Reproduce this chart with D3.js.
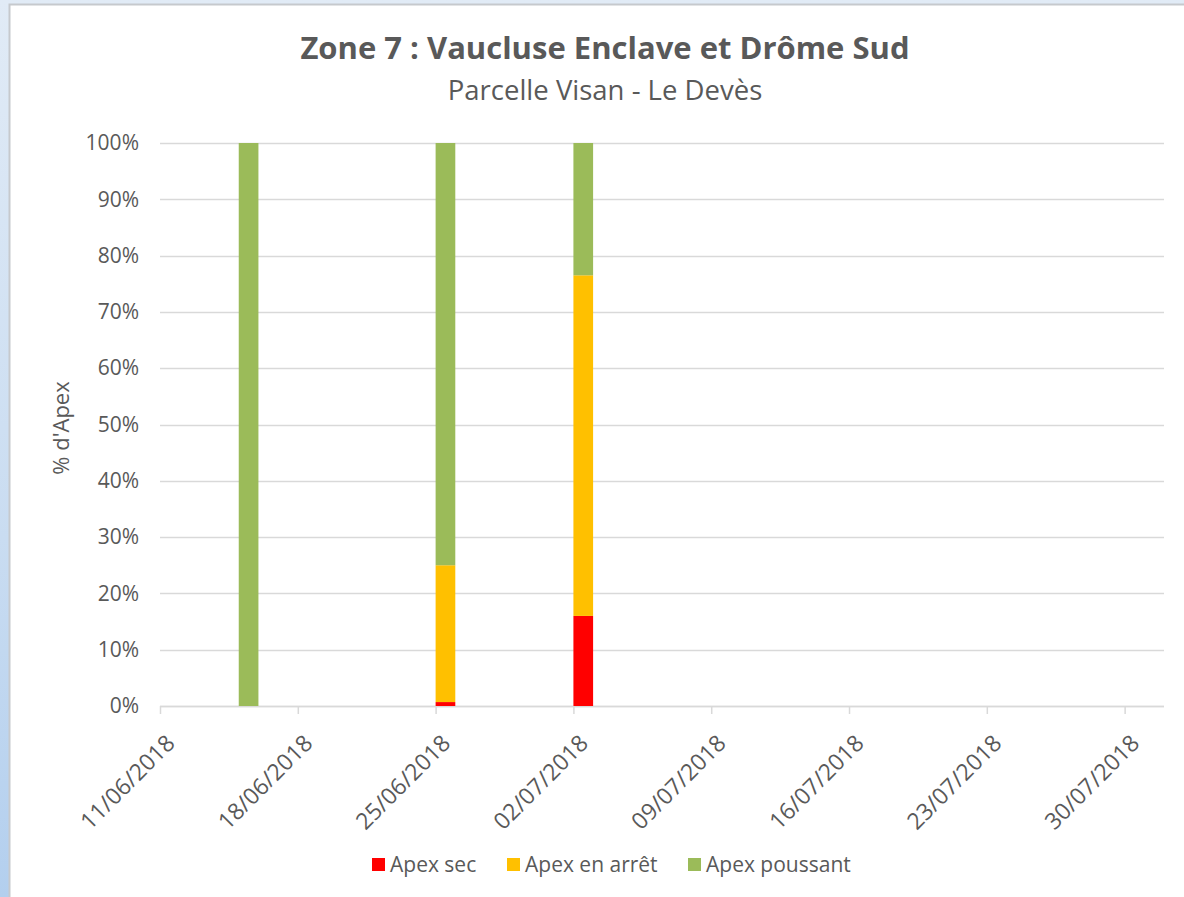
<!DOCTYPE html>
<html>
<head>
<meta charset="utf-8">
<script src="https://cdn.jsdelivr.net/npm/d3@7"></script>
<style>
  html, body { margin: 0; padding: 0; }
  body {
    width: 1184px; height: 897px; overflow: hidden;
    background: linear-gradient(to bottom, #e1ebf6 0%, #c9dcf1 60%, #b3cfee 100%);
  }
  svg { display: block; }
  text { font-family: "Open Sans", sans-serif; fill: #595959; }
</style>
</head>
<body>
<svg id="chart"></svg>
<script>
// sampling dates (one bar each) and stacked percentages
var dates = ["15/06/2018", "25/06/2018", "02/07/2018"];
var apexSec = [0, 0.7, 16];
var apexArret = [0, 24.3, 60.5];
var apexPoussant = [100, 75, 23.5];

var seriesNames = ["Apex sec", "Apex en arrêt", "Apex poussant"];
var seriesColors = ["#ff0000", "#ffc000", "#9bbb59"];

var xTickLabels = ["11/06/2018", "18/06/2018", "25/06/2018", "02/07/2018",
  "09/07/2018", "16/07/2018", "23/07/2018", "30/07/2018"];
var yTicks = [0, 10, 20, 30, 40, 50, 60, 70, 80, 90, 100];

var parseDate = d3.utcParse("%d/%m/%Y");
var DAY = 24 * 3600 * 1000;

var screen = { width: 1184, height: 897 };
var margins = { top: 143, left: 160, right: 20, bottom: 191 };
var graph = {
  width: screen.width - margins.left - margins.right,
  height: screen.height - margins.top - margins.bottom
};

var svg = d3.select("#chart").attr("width", screen.width).attr("height", screen.height);

// white chart area with thin grey frame
svg.append("rect")
  .attr("x", 9.5).attr("y", 4.5)
  .attr("width", screen.width).attr("height", screen.height)
  .style("fill", "#ffffff")
  .style("stroke", "#c6c9cd")
  .style("stroke-width", 2);

var xScale = d3.scaleUtc()
  .domain([parseDate("11/06/2018"), parseDate("01/08/2018")])
  .range([0, graph.width]);

var yScale = d3.scaleLinear()
  .domain([0, 100])
  .range([graph.height, 0]);

var g = svg.append("g")
  .attr("transform", "translate(" + margins.left + "," + margins.top + ")");

// gridlines
g.append("g").classed("grid", true)
  .selectAll("line")
  .data(yTicks)
  .enter()
  .append("line")
  .attr("x1", 0)
  .attr("x2", graph.width)
  .attr("y1", function (d) { return Math.round(yScale(d)) + 0.5; })
  .attr("y2", function (d) { return Math.round(yScale(d)) + 0.5; })
  .style("stroke", "#d9d9d9")
  .style("stroke-width", 1.3);

// y axis labels
var yAxis = d3.axisLeft(yScale)
  .tickValues(yTicks)
  .tickSize(0)
  .tickPadding(21)
  .tickFormat(function (d) { return d + "%"; });

var yGroup = g.append("g").classed("yaxis", true).call(yAxis);
yGroup.select(".domain").remove();
yGroup.selectAll("text")
  .style("font-size", "21px")
  .style("fill", "#595959")
  .style("font-family", "'Open Sans', sans-serif");

// x axis
var tickDates = xTickLabels.map(parseDate);
var xAxis = d3.axisBottom(xScale)
  .tickValues(tickDates)
  .tickSize(8)
  .tickFormat(d3.utcFormat("%d/%m/%Y"));

var xGroup = g.append("g").classed("xaxis", true)
  .attr("transform", "translate(0," + graph.height + ")")
  .call(xAxis);
xGroup.select(".domain").style("stroke", "#d9d9d9").style("stroke-width", 1.5)
  .attr("d", "M0,0.5H" + graph.width);
xGroup.selectAll(".tick line").style("stroke", "#d9d9d9").style("stroke-width", 1.5);
xGroup.selectAll(".tick text")
  .attr("text-anchor", "end")
  .attr("x", 0).attr("y", 0)
  .attr("dy", "0.35em")
  .attr("transform", "translate(10,33) rotate(-45)")
  .style("font-size", "23px")
  .style("fill", "#595959")
  .style("font-family", "'Open Sans', sans-serif");

// stacked bars
var rows = dates.map(function (d, i) {
  return { date: parseDate(d), sec: apexSec[i], arret: apexArret[i], poussant: apexPoussant[i] };
});
var stack = d3.stack().keys(["sec", "arret", "poussant"]);
var layers = stack(rows);

g.append("g").classed("bars", true)
  .selectAll("g")
  .data(layers)
  .enter()
  .append("g")
  .style("fill", function (d, i) { return seriesColors[i]; })
  .selectAll("rect")
  .data(function (d) { return d; })
  .enter()
  .append("rect")
  .attr("x", function (d) { return xScale(d.data.date); })
  .attr("width", function (d) { return xScale(new Date(+d.data.date + DAY)) - xScale(d.data.date); })
  .attr("y", function (d) { return yScale(d[1]); })
  .attr("height", function (d) { return yScale(d[0]) - yScale(d[1]); });

// titles
svg.append("text")
  .text("Zone 7 : Vaucluse Enclave et Drôme Sud")
  .attr("x", 605).attr("y", 59)
  .attr("text-anchor", "middle")
  .style("font-size", "31px")
  .style("font-weight", "bold");

svg.append("text")
  .text("Parcelle Visan - Le Devès")
  .attr("x", 605).attr("y", 100)
  .attr("text-anchor", "middle")
  .style("font-size", "27.5px");

svg.append("g")
  .attr("transform", "translate(69,428)")
  .append("text")
  .text("% d'Apex")
  .attr("text-anchor", "middle")
  .attr("transform", "rotate(-90)")
  .style("font-size", "22px");

// legend
var legendX = [372, 507, 688];
var legend = svg.append("g").classed("legend", true)
  .selectAll("g")
  .data(seriesNames)
  .enter()
  .append("g")
  .attr("transform", function (d, i) { return "translate(" + legendX[i] + ",858)"; });

legend.append("rect")
  .attr("width", 13).attr("height", 13)
  .style("fill", function (d, i) { return seriesColors[i]; });

legend.append("text")
  .text(function (d) { return d; })
  .attr("x", 18).attr("y", 14)
  .style("font-size", "21px");
</script>
</body>
</html>
